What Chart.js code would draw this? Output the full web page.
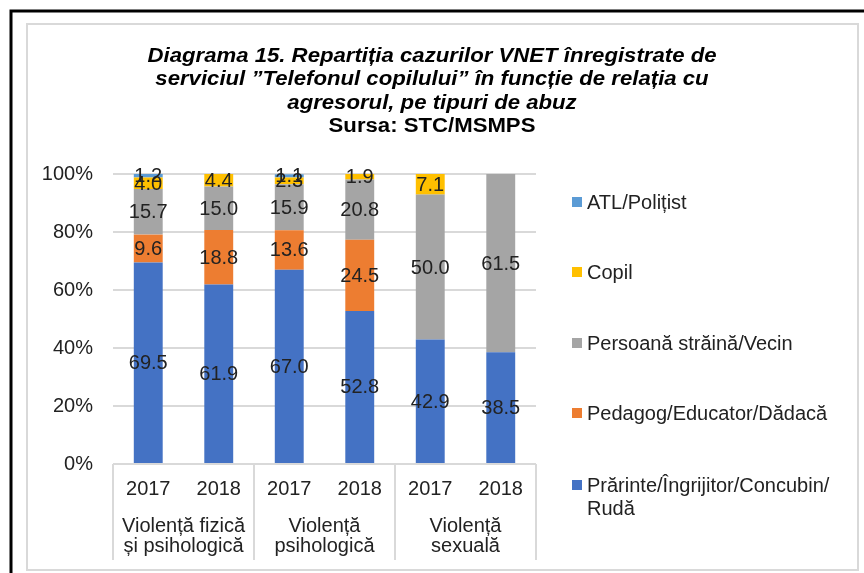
<!DOCTYPE html>
<html>
<head>
<meta charset="utf-8">
<script src="https://cdn.jsdelivr.net/npm/chart.js@4.4.0/dist/chart.umd.min.js"></script>
<style>
  html, body { margin: 0; padding: 0; background: #fff; }
  #wrap { width: 864px; height: 573px; position: relative; }
</style>
</head>
<body>
<div id="wrap"><canvas id="chart" width="864" height="573"></canvas></div>
<script>
// years under each bar, grouped by abuse type
const years = ['2017', '2018', '2017', '2018', '2017', '2018'];
const groups = [['Violență fizică', 'și psihologică'], ['Violență', 'psihologică'], ['Violență', 'sexuală']];

// series, bottom of the stack first
const parinte = [69.5, 61.9, 67.0, 52.8, 42.9, 38.5];
const pedagog = [9.6, 18.8, 13.6, 24.5, 0, 0];
const strain = [15.7, 15.0, 15.9, 20.8, 50.0, 61.5];
const copil = [4.0, 4.4, 2.3, 1.9, 7.1, 0];
const atl = [1.2, 0, 1.1, 0, 0, 0];

const yTicks = [0, 20, 40, 60, 80, 100];

const titleLines = [
  'Diagrama 15. Repartiția cazurilor VNET înregistrate de',
  'serviciul ”Telefonul copilului” în funcție de relația cu',
  'agresorul, pe tipuri de abuz'
];
const sourceLine = 'Sursa: STC/MSMPS';

const FONT = '"Liberation Sans", Arial, sans-serif';
const TXT = '#222';
const GRID = '#D9D9D9';

function ds(label, data, color, legendLines) {
  return { label, data, backgroundColor: color, borderWidth: 0, legendLines };
}

const datasets = [
  ds('Prărinte/Îngrijitor/Concubin/Rudă', parinte, '#4472C4', ['Prărinte/Îngrijitor/Concubin/', 'Rudă']),
  ds('Pedagog/Educator/Dădacă', pedagog, '#ED7D31', ['Pedagog/Educator/Dădacă']),
  ds('Persoană străină/Vecin', strain, '#A5A5A5', ['Persoană străină/Vecin']),
  ds('Copil', copil, '#FFC000', ['Copil']),
  ds('ATL/Polițist', atl, '#5B9BD5', ['ATL/Polițist'])
];

// frame, title, value labels, grouped axis, legend
const decor = {
  id: 'decor',
  beforeDraw(chart) {
    const c = chart.ctx;
    c.save();
    c.fillStyle = '#fff';
    c.fillRect(0, 0, chart.width, chart.height);
    c.strokeStyle = '#000';
    c.lineWidth = 3;
    c.beginPath();
    c.moveTo(11, chart.height);
    c.lineTo(11, 11);
    c.lineTo(chart.width, 11);
    c.stroke();
    c.strokeStyle = GRID;
    c.lineWidth = 2;
    c.strokeRect(27, 24, 831, 546);
    c.restore();
  },
  afterDatasetsDraw(chart) {
    const c = chart.ctx;
    c.save();
    c.font = '20px ' + FONT;
    c.fillStyle = TXT;
    c.textAlign = 'center';
    c.textBaseline = 'middle';
    chart.data.datasets.forEach((d, i) => {
      chart.getDatasetMeta(i).data.forEach((bar, j) => {
        const v = d.data[j];
        if (!v) return;
        c.fillText(v.toFixed(1), bar.x, (bar.y + bar.base) / 2 + 1);
      });
    });
    c.restore();
  },
  afterDraw(chart) {
    const c = chart.ctx;
    const a = chart.chartArea;
    c.save();
    // title: fit the first line to the width it has in the original
    c.fillStyle = '#000';
    c.textAlign = 'center';
    c.textBaseline = 'middle';
    c.font = 'italic bold 20px ' + FONT;
    const sx = 569 / c.measureText(titleLines[0]).width;
    c.save();
    c.translate(432, 0);
    c.scale(sx, 1);
    titleLines.forEach((t, i) => c.fillText(t, 0, 56 + i * 23.5));
    c.font = 'bold 20px ' + FONT;
    c.fillText(sourceLine, 0, 56 + 3 * 23.5);
    c.restore();

    // grouped category axis
    const xs = chart.scales.x;
    const step = (a.right - a.left) / years.length;
    c.strokeStyle = GRID;
    c.lineWidth = 2;
    for (let k = 0; k <= groups.length; k++) {
      const x = Math.round(a.left + k * 2 * step);
      c.beginPath();
      c.moveTo(x, a.bottom);
      c.lineTo(x, 560);
      c.stroke();
    }
    c.fillStyle = TXT;
    c.font = '20px ' + FONT;
    years.forEach((y, i) => c.fillText(y, xs.getPixelForValue(i), 489));
    groups.forEach((g, k) => {
      const cx = a.left + (k * 2 + 1) * step;
      g.forEach((line, l) => c.fillText(line, cx, 526 + l * 20.5));
    });

    // legend, top entry is the last stacked series
    const rows = [202, 272, 343, 413, 485];
    const items = chart.data.datasets.slice().reverse();
    c.textAlign = 'left';
    items.forEach((d, i) => {
      c.fillStyle = d.backgroundColor;
      c.fillRect(572, rows[i] - 5, 10, 10);
      c.fillStyle = TXT;
      d.legendLines.forEach((line, l) => c.fillText(line, 587, rows[i] + 1 + l * 23));
    });
    c.restore();
  }
};

new Chart(document.getElementById('chart'), {
  type: 'bar',
  data: { labels: years.map((y, i) => i), datasets },
  options: {
    responsive: false,
    animation: false,
    layout: { padding: { left: 0, top: 174, right: 328, bottom: 109 } },
    datasets: { bar: { barPercentage: 1, categoryPercentage: 0.41 } },
    plugins: { legend: { display: false }, tooltip: { enabled: false } },
    scales: {
      x: { stacked: true, display: false },
      y: {
        stacked: true,
        min: 0,
        max: 100,
        afterFit(scale) { scale.width = 113; },
        afterBuildTicks(scale) { scale.ticks = yTicks.map(v => ({ value: v })); },
        border: { display: false },
        grid: { color: GRID, lineWidth: 2, drawTicks: false },
        ticks: {
          padding: 20,
          color: TXT,
          font: { family: FONT, size: 20 },
          callback: v => v + '%'
        }
      }
    }
  },
  plugins: [decor]
});
</script>
</body>
</html>
